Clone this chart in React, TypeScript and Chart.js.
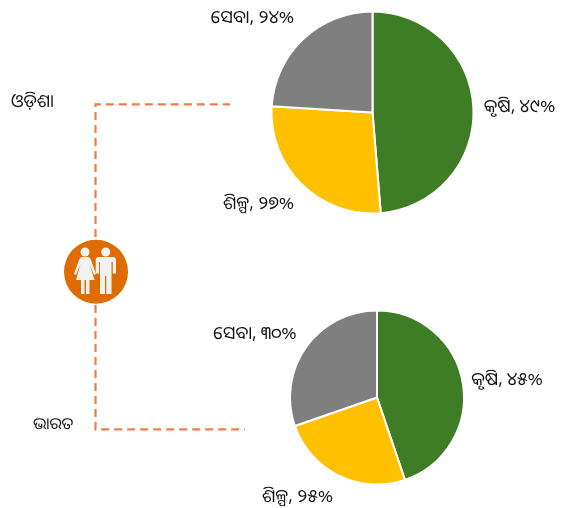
import React, { useEffect, useRef } from "react";
import { Chart, registerables } from "chart.js";

Chart.register(...registerables);

const sectors = ["କୃଷି", "ଶିଳ୍ପ", "ସେବା"];
const odishaValues = [48.7, 27.3, 24];
const indiaValues = [44.8, 24.9, 30.3];
const odishaLabels = ["୪୯%", "୨୭%", "୨୪%"];
const indiaLabels = ["୪୫%", "୨୫%", "୩୦%"];
const sectorColors = ["#3E7D25", "#FFC000", "#7F7F7F"];
const regionOdisha = "ଓଡ଼ିଶା";
const regionIndia = "ଭାରତ";

const FAMILY = '"Noto Sans Oriya", "Noto Sans", "Open Sans", "DejaVu Sans", sans-serif';
const FONT = `18px ${FAMILY}`;

type Anchor = { x: number; y: number };

function Pie({
  values,
  pctLabels,
  top,
  height,
  center,
  radius,
  anchors,
}: {
  values: number[];
  pctLabels: string[];
  top: number;
  height: number;
  center: Anchor;
  radius: number;
  anchors: Anchor[];
}) {
  const ref = useRef<HTMLCanvasElement>(null);
  useEffect(() => {
    const labelPlugin = {
      id: "sliceLabels",
      afterDraw(chart: any) {
        const ctx = chart.ctx;
        ctx.save();
        ctx.font = FONT;
        ctx.fillStyle = "#111";
        ctx.textAlign = "center";
        ctx.textBaseline = "middle";
        sectors.forEach((s, i) => {
          ctx.fillText(`${s}, ${pctLabels[i]}`, anchors[i].x, anchors[i].y - top);
        });
        ctx.restore();
      },
    };
    const chart = new Chart(ref.current!, {
      type: "pie",
      data: {
        labels: sectors,
        datasets: [
          {
            data: values,
            backgroundColor: sectorColors,
            borderColor: "#fff",
            borderWidth: 2,
          },
        ],
      },
      options: {
        animation: false,
        responsive: false,
        layout: {
          padding: {
            left: center.x - radius,
            right: 564 - center.x - radius,
            top: center.y - top - radius,
            bottom: top + height - center.y - radius,
          },
        },
        plugins: { legend: { display: false }, tooltip: { enabled: false } },
      },
      plugins: [labelPlugin],
    });
    return () => chart.destroy();
  }, []);
  return (
    <canvas
      ref={ref}
      width={564}
      height={height}
      style={{ position: "absolute", left: 0, top, width: 564, height }}
    />
  );
}

const dash = { stroke: "#EC7E4C", strokeWidth: 2.2, strokeDasharray: "8 5", fill: "none" };

export default function App() {
  useEffect(() => {
    document.body.style.margin = "0";
    document.body.style.background = "#fff";
  }, []);
  const textStyle: React.CSSProperties = {
    position: "absolute",
    color: "#111",
    lineHeight: "20px",
    whiteSpace: "nowrap",
  };
  return (
    <div style={{ position: "relative", width: 564, height: 508, overflow: "hidden" }}>
      <Pie
        values={odishaValues}
        pctLabels={odishaLabels}
        top={0}
        height={254}
        center={{ x: 372.5, y: 112.5 }}
        radius={102}
        anchors={[
          { x: 519.5, y: 107 },
          { x: 258.5, y: 204 },
          { x: 252.5, y: 18 },
        ]}
      />
      <Pie
        values={indiaValues}
        pctLabels={indiaLabels}
        top={254}
        height={254}
        center={{ x: 377, y: 397.5 }}
        radius={88}
        anchors={[
          { x: 507, y: 380 },
          { x: 297.5, y: 497 },
          { x: 255, y: 334 },
        ]}
      />
      <svg width={564} height={508} style={{ position: "absolute", left: 0, top: 0 }}>
        <path d="M95.5 237V104.3H230" {...dash} />
        <path d="M95.5 305V429.3H245" {...dash} />
        <circle cx={96} cy={271.7} r={32} fill="#DF6C00" />
        <g fill="#F2F2F2">
          <circle cx={85} cy={252} r={4.5} />
          <path d="M82 257H88Q90 257 91 260L96 274L94 275L89.5 264L94.5 280H89.5V294H86V280H84.5V294H81V280H76L80.5 264L76 275L74 274L79 260Q80 257 82 257Z" />
          <circle cx={105.7} cy={252} r={4.5} />
          <path d="M98.5 257H113Q116 257 116 260V273.5H112.8V262H111.5V294H106.3V276H105V294H100V262H99V273.5H95.7V260Q95.7 257 98.5 257Z" />
        </g>
      </svg>
      <div style={{ ...textStyle, font: `18px/20px ${FAMILY}`, left: 11, top: 90 }}>{regionOdisha}</div>
      <div style={{ ...textStyle, font: `16px/20px ${FAMILY}`, left: 33, top: 413 }}>{regionIndia}</div>
    </div>
  );
}
